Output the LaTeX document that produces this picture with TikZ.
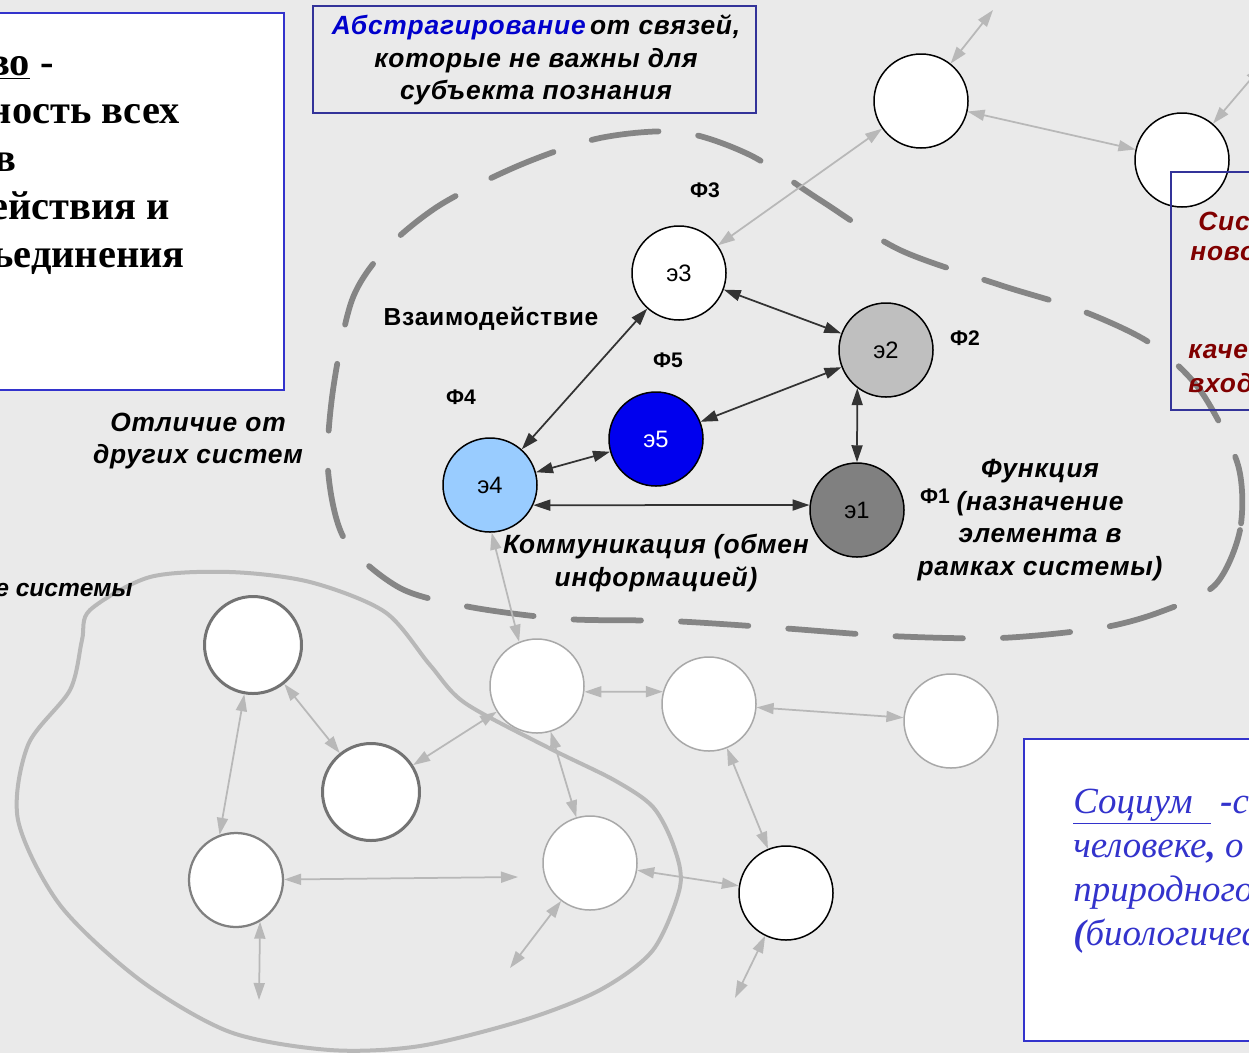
\documentclass[tikz,border=0pt]{standalone}
\usepackage{fontspec}
\setmainfont{Liberation Sans}
\newfontfamily\widesans[LetterSpace=3]{Liberation Sans}
\newfontfamily\timesrm{Liberation Serif}
\usetikzlibrary{arrows.meta,shapes}
\definecolor{bggray}{HTML}{EAEAEA}
\definecolor{boxblue}{HTML}{3333CC}
\definecolor{frameblue}{HTML}{333399}
\definecolor{linkgray}{HTML}{B8B8B8}
\definecolor{dashgray}{HTML}{858585}
\definecolor{ringgray}{HTML}{A8A8A8}
\definecolor{darkred}{HTML}{800000}
\definecolor{paleblue}{HTML}{99CCFF}
\definecolor{deepblue}{HTML}{0000EE}
\definecolor{wordblue}{HTML}{0000CC}

\begin{document}
\begin{tikzpicture}[x=0.2mm,y=-0.2mm]
        \tikzstyle{elem}=[circle,draw=black,line width=0.3mm,fill=white,minimum size=18.8mm,inner sep=0pt,font=\fontsize{13.5}{15}\selectfont]
        \tikzstyle{elemlight}=[elem,draw=ringgray]
        \tikzstyle{elemdark}=[elem,draw=black!55,line width=0.6mm,minimum size=19.4mm]
        \tikzstyle{link}=[draw=black!80,line width=0.35mm,{Triangle[length=3.4mm,width=2.2mm]}-{Triangle[length=3.4mm,width=2.2mm]}]
        \tikzstyle{linklight}=[link,draw=linkgray]
        \tikzstyle{flabel}=[font=\fontsize{12}{14}\selectfont\bfseries]
        \tikzstyle{note}=[font=\widesans\fontsize{15}{18.5}\selectfont\bfseries\itshape,align=center,inner sep=0pt]

        \useasboundingbox (0,0) rectangle (1249,1053);
        \clip (0,0) rectangle (1249,1053);
        \fill[bggray] (0,0) rectangle (1249,1053);

        \draw[linkgray,line width=0.8mm] plot[smooth cycle] coordinates {(90,610) (150,577) (230,572) (310,582) (385,612) (430,665) (465,703) (549,748) (614,780) (653,807) (674,847) (680,887) (653,950) (600,990) (524,1020) (420,1046) (330,1050) (230,1032) (140,980) (60,905) (18,820) (28,745) (70,690) (82,640)};
        \draw[dashgray,line width=1.15mm,line cap=round,dash pattern=on 13.5mm off 8mm] plot[smooth cycle] coordinates {(1238,465) (1240,530) (1215,585) (1160,612) (1100,628) (1000,638) (890,636) (780,628) (670,621) (565,619) (470,607) (400,588) (345,540) (328,470) (333,390) (352,300) (385,250) (440,205) (520,165) (600,138) (680,132) (750,155) (820,200) (900,250) (1000,285) (1080,310) (1150,343) (1200,390)};

        \node[elem] (e3) at (679,273) {э3};
        \node[elem,fill=black!25] (e2) at (886,350) {э2};
        \node[elem,fill=black!50] (e1) at (857,510) {э1};
        \node[elem,fill=paleblue] (e4) at (490,485) {э4};
        \node[elem,fill=deepblue,text=white] (e5) at (656,439) {э5};

        \node[elem] (A) at (921,101) {};
        \node[elem] (B) at (1182,160) {};
        \node[elemdark] (C) at (253,645) {};
        \node[elemdark] (D) at (371,792) {};
        \node[elem,draw=black!50,line width=0.45mm] (E) at (236,880) {};
        \node[elemlight] (F) at (537,686) {};
        \node[elemlight] (G) at (590,863) {};
        \node[elemlight] (H) at (709,704) {};
        \node[elemlight] (I) at (951,721) {};
        \node[elem] (J) at (786,893) {};

        \coordinate (fA) at (993,10);
        \coordinate (fB) at (1262,66);
        \coordinate (fE) at (518,877);
        \coordinate (fEd) at (259,1000);
        \coordinate (fG) at (510,968);
        \coordinate (fJ) at (735,998);

        \draw[link] (e4) -- (e3);
        \draw[link] (e3) -- (e2);
        \draw[link] (e5) -- (e2);
        \draw[link] (e4) -- (e5);
        \draw[link] (e4.-25) -- (e1.174);
        \draw[link] (e2.-127) -- (e1.90);

        \draw[linklight] (A) -- (fA);
        \draw[linklight] (A) -- (B);
        \draw[linklight] (B) -- (fB);
        \draw[linklight] (A) -- (e3);
        \draw[linklight] (e4.-88) -- (F.112);
        \draw[linklight] (F.-7) -- (H.165);
        \draw[linklight] (F) -- (D);
        \draw[linklight] (F) -- (G);
        \draw[linklight] (C) -- (D);
        \draw[linklight] (C.-100) -- (E.110);
        \draw[linklight] (E) -- (fE);
        \draw[linklight] (E.-60) -- (fEd);
        \draw[linklight] (G) -- (fG);
        \draw[linklight] (G) -- (J);
        \draw[linklight] (H) -- (J);
        \draw[linklight] (H) -- (I);
        \draw[linklight] (J) -- (fJ);

        \node[flabel] (f3) at (705,190) {Ф3};
        \node[flabel] (f2) at (965,338) {Ф2};
        \node[flabel] (f5) at (668,360) {Ф5};
        \node[flabel] (f4) at (461,397) {Ф4};
        \node[flabel] (f1) at (935,496) {Ф1};

        \node[font=\widesans\fontsize{14}{18}\selectfont\bfseries] (inter) at (491,319) {Взаимодействие};
        \node[note] (diff) at (198,441) {Отличие от\\других систем};
        \node[note] (comm) at (656,563) {Коммуникация (обмен\\информацией)};
        \node[note] (func) at (1040,520) {Функция\\(назначение\\элемента в\\рамках системы)};
        \node[font=\fontsize{14}{18}\selectfont\bfseries\itshape,inner sep=0pt,anchor=east] (sub) at (133,590) {е системы};

        \draw[frameblue,line width=0.3mm] (313,6) rectangle (756,113);
        \node[note] (abst) at (536,60) {\textcolor{wordblue}{Абстрагирование}\,от связей,\\которые не важны для\\субъекта познания};

        \draw[frameblue,line width=0.3mm] (1171,172) rectangle (1262,410);
        \node[note,darkred,anchor=west] (r1) at (1198,221) {Сис};
        \node[note,darkred,anchor=west] (r2) at (1190,254) {ново};
        \node[note,darkred,anchor=west] (r3) at (1188,352) {каче};
        \node[note,darkred,anchor=west] (r4) at (1188,383) {вход};

        \draw[boxblue,fill=white,line width=0.45mm] (-10,13) rectangle (284,390);
        \tikzstyle{defn}=[font=\timesrm\fontsize{23}{27}\selectfont\bfseries,anchor=base east,inner sep=0pt]
        \node[defn] (l1) at (54,75) {\underline{во} -};
        \node[defn] (l2) at (180,123) {ность всех};
        \node[defn] (l3) at (17,171) {в};
        \node[defn] (l4) at (170,219) {ействия и};
        \node[defn] (l5) at (185,267) {ьединения};

        \draw[boxblue,fill=white,line width=0.45mm] (1024,739) rectangle (1262,1041);
        \tikzstyle{socium}=[font=\timesrm\fontsize{21}{25}\selectfont\itshape,text=boxblue,anchor=base west,inner sep=0pt]
        \node[socium] (s1) at (1073,813) {\underline{Социум\ \ }\ \textbf{-}с};
        \node[socium] (s2) at (1073,857) {человеке\textbf{,} о};
        \node[socium] (s3) at (1073,901) {природного};
        \node[socium] (s4) at (1073,945) {\textbf{(}биологичес};
\end{tikzpicture}
\end{document}
